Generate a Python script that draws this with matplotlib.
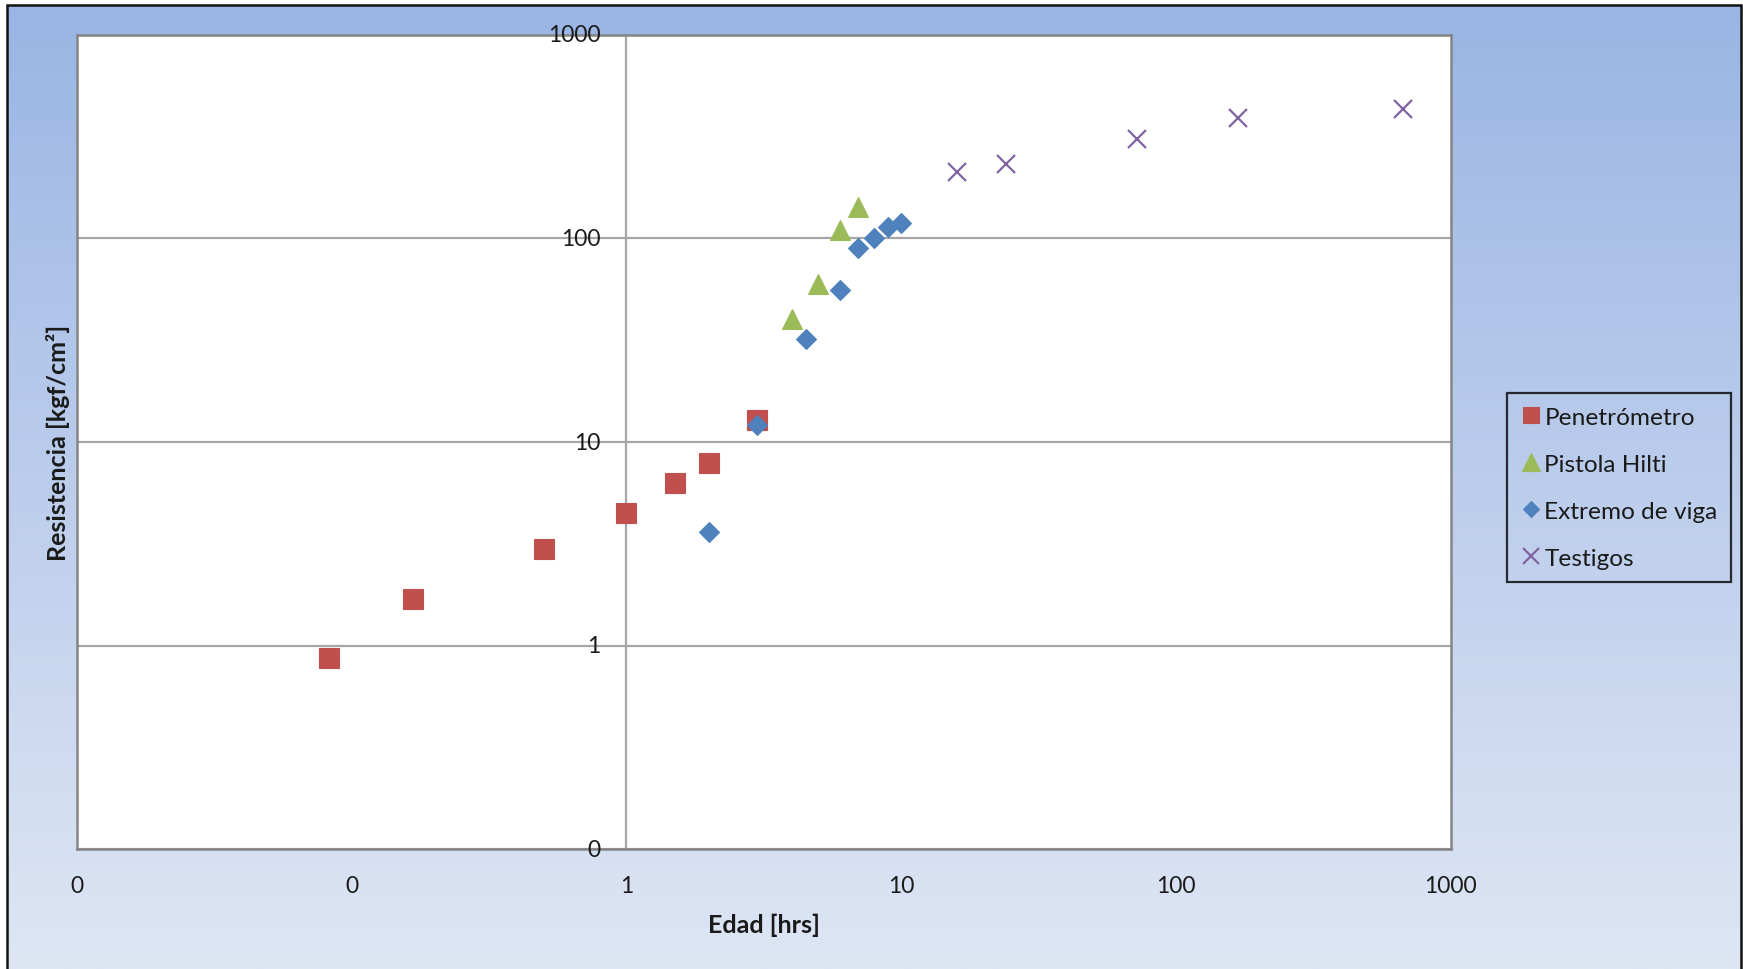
import numpy as np
import matplotlib
matplotlib.use("Agg")
import matplotlib.pyplot as plt
from matplotlib.patches import Rectangle
from matplotlib.ticker import NullLocator, FixedLocator
import matplotlib.transforms as mtransforms

plt.rcParams['font.family'] = ['Lato', 'DejaVu Sans']

# ---- data ----
pen_x = [0.083, 0.167, 0.5, 1.0, 1.5, 2.0, 3.0]
pen_y = [0.87, 1.70, 3.0, 4.47, 6.3, 7.85, 12.8]

hil_x = [4.0, 5.0, 6.0, 7.0]
hil_y = [40.0, 59.5, 110.0, 143.0]

ext_x = [2.0, 3.0, 4.5, 6.0, 7.0, 8.0, 9.0, 10.0]
ext_y = [3.63, 12.1, 32.2, 55.7, 90.0, 100.8, 114.0, 119.4]

tes_x = [16.0, 24.0, 72.0, 168.0, 672.0]
tes_y = [212.0, 232.0, 306.0, 391.0, 430.0]

x_ticks = [0.01, 0.1, 1, 10, 100, 1000]
x_tick_labels = ["0", "0", "1", "10", "100", "1000"]
y_ticks = [0.1, 1, 10, 100, 1000]
y_tick_labels = ["0", "1", "10", "100", "1000"]

series_names = ["Penetrómetro", "Pistola Hilti", "Extremo de viga", "Testigos"]

# ---- figure ----
W, H = 1743, 970
fig = plt.figure(figsize=(W / 100, H / 100), dpi=100)
fig.patch.set_facecolor('white')

# gradient background inside frame
fl, fb, fr, ft = 7 / W, 0.0, 1741 / W, 1 - 6 / H
bg = fig.add_axes([fl, fb, fr - fl, ft - fb], zorder=-10)
top = np.array([154, 181, 228]) / 255
bot = np.array([222, 230, 244]) / 255
t = np.linspace(0, 1, 256)[:, None]
grad = top[None, :] * (1 - t) + bot[None, :] * t
bg.imshow(grad[:, None, :], aspect='auto', extent=[0, 1, 0, 1], interpolation='bilinear')
bg.set_xlim(0, 1)
bg.set_ylim(0, 1)
bg.axis('off')

# frame
fig.add_artist(Rectangle((fl, -0.05), fr - fl, ft + 0.05, transform=fig.transFigure,
                         fill=False, edgecolor='#111111', lw=1.8, zorder=20))

# plot area
ax = fig.add_axes([76.7 / W, 1 - 850.4 / H, (1450.6 - 76.7) / W, (850.4 - 35.6) / H])
ax.set_facecolor('white')
ax.set_xscale('log')
ax.set_yscale('log')
ax.set_xlim(x_ticks[0], x_ticks[-1])
ax.set_ylim(y_ticks[0], y_ticks[-1])
ax.xaxis.set_minor_locator(NullLocator())
ax.yaxis.set_minor_locator(NullLocator())
ax.xaxis.set_major_locator(FixedLocator(x_ticks))
ax.yaxis.set_major_locator(FixedLocator(y_ticks))
ax.tick_params(which='both', length=0, labelbottom=False, labelleft=False)
ax.grid(axis='y', color='#A6A6A6', lw=1.6, zorder=1)
ax.set_axisbelow(True)
ax.axvline(1, color='#A6A6A6', lw=1.6, zorder=1)
for s in ax.spines.values():
    s.set_color('#858585')
    s.set_linewidth(1.8)

# tick labels
fs = 16.5
ytrans = mtransforms.offset_copy(ax.transData, fig=fig, x=-26, y=0, units='dots')
for v, lab in zip(y_ticks, y_tick_labels):
    ax.text(1, v, lab, transform=ytrans, ha='right', va='center', fontsize=fs, color='#1a1a1a', clip_on=False)
xtrans = mtransforms.blended_transform_factory(ax.transData, ax.transAxes)
for v, lab in zip(x_ticks, x_tick_labels):
    ax.text(v, -0.0437, lab, transform=xtrans, ha='center', va='center', fontsize=fs, color='#1a1a1a', clip_on=False)

# axis titles
fig.text(763.6 / W, 1 - 925 / H, "Edad [hrs]", ha='center', va='center', fontsize=18, fontweight='bold', color='#1a1a1a')
fig.text(58 / W, 1 - 443 / H, "Resistencia [kgf/cm²]", ha='center', va='center', rotation=90,
         fontsize=18, fontweight='bold', color='#1a1a1a')

# series
h1, = ax.plot(pen_x, pen_y, ls='none', marker='s', ms=14, color='#C0504D', mec='#C0504D', mew=0.8, zorder=3, clip_on=False)
h2, = ax.plot(hil_x, hil_y, ls='none', marker='^', ms=14.5, color='#9BBB59', mec='#9BBB59', mew=0.8, zorder=3, clip_on=False)
h3, = ax.plot(ext_x, ext_y, ls='none', marker='D', ms=10, color='#4F81BD', mec='#4F81BD', mew=0.8, zorder=4, clip_on=False)
h4, = ax.plot(tes_x, tes_y, ls='none', marker='x', ms=13, color='#8064A2', mec='#8064A2', mew=1.6, zorder=3, clip_on=False)

leg = fig.legend([h1, h2, h3, h4], series_names, loc='upper left',
                 bbox_to_anchor=(1507 / W, 1 - 394 / H), bbox_transform=fig.transFigure,
                 frameon=True, fancybox=False, edgecolor='black', facecolor='none',
                 fontsize=17.6, labelspacing=1.06, handletextpad=0.08, handlelength=0.9,
                 borderpad=0.55, borderaxespad=0, markerscale=0.85)
leg.get_frame().set_linewidth(1.6)
for txt in leg.get_texts():
    txt.set_color('#1a1a1a')

fig.savefig('out.png', dpi=100)
